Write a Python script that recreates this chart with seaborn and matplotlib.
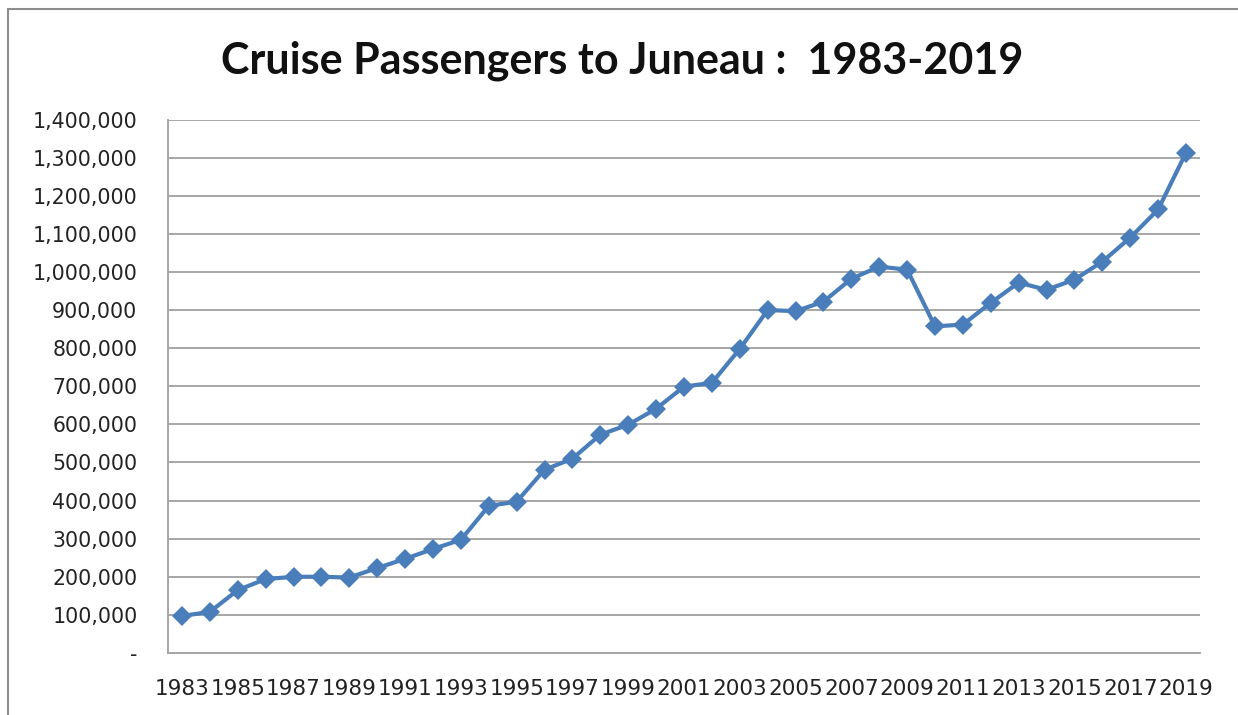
import matplotlib
matplotlib.use("Agg")
import matplotlib.pyplot as plt
from matplotlib.patches import Rectangle
from matplotlib.ticker import FuncFormatter, MultipleLocator
import seaborn as sns
import pandas as pd

years = list(range(1983, 2020))
passengers = [
    97000, 108000, 165000, 194000, 200000, 200000, 198000, 223000, 247000, 273000,
    297000, 386000, 397000, 481000, 510000, 573000, 599000, 641000, 699000, 709000,
    798000, 900000, 897000, 922000, 982000, 1014000, 1006000, 857000, 862000, 919000,
    972000, 953000, 980000, 1027000, 1090000, 1164000, 1313000,
]
title = "Cruise Passengers to Juneau :  1983-2019"

df = pd.DataFrame({"year": years, "passengers": passengers})

sns.set_style("white")
plt.rcParams["font.family"] = ["DejaVu Sans"]

fig = plt.figure(figsize=(12.38, 7.15), dpi=100)
ax = fig.add_axes([168 / 1238, 1 - 653 / 715, (1200 - 168) / 1238, (653 - 119.5) / 715])

sns.lineplot(data=df, x="year", y="passengers", ax=ax, color="#4a7ebb",
             linewidth=3, marker="D", markersize=10, markeredgewidth=0)

grid_c = "#a6a6a6"
ax.set_xlim(1982.5, 2019.5)
ax.set_ylim(0, 1400000)
ax.yaxis.set_major_locator(MultipleLocator(100000))
ax.yaxis.set_major_formatter(FuncFormatter(lambda v, p: "-" if v == 0 else f"{int(v):,}"))
ax.set_xticks(years)
ax.set_xticklabels([str(y) if (y - 1983) % 2 == 0 else "" for y in years])
ax.grid(axis="y", color=grid_c, linewidth=1.4)
ax.set_axisbelow(True)
for s in ["top", "right"]:
    ax.spines[s].set_visible(False)
for s in ["left", "bottom"]:
    ax.spines[s].set_color(grid_c)
    ax.spines[s].set_linewidth(1.4)
ax.tick_params(axis="x", direction="out", length=5, width=1.2, color=grid_c,
               pad=14, labelsize=15.5, labelcolor="#222222")
ax.tick_params(axis="y", length=0, pad=22, labelsize=14.8, labelcolor="#222222")
ax.set_xlabel("")
ax.set_ylabel("")

fig.text(0.5024, 1 - 61 / 715, title, ha="center", va="center",
         fontsize=31, fontweight="bold", family=["Lato", "DejaVu Sans"], color="#111111")

fig.patches.append(Rectangle((8 / 1238, -0.02), 1.1, 1 - 9 / 715 + 0.02,
                             transform=fig.transFigure, fill=False,
                             edgecolor="#8c8c8c", linewidth=1.5))

plt.savefig("out.png", dpi=100)
